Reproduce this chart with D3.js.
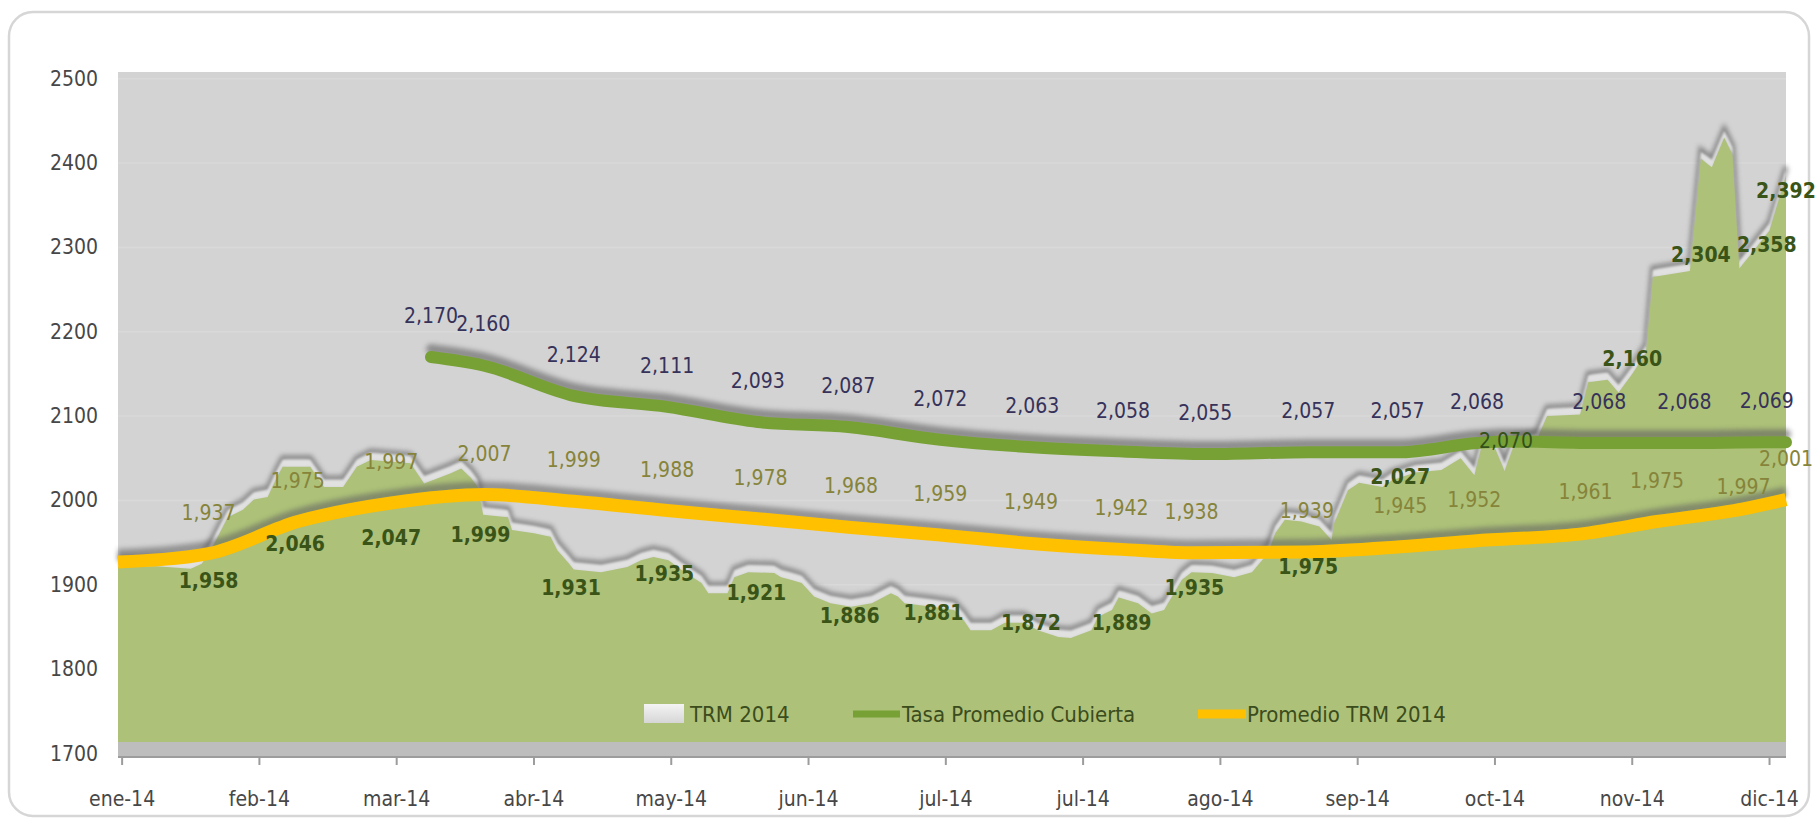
<!DOCTYPE html>
<html><head><meta charset="utf-8">
<script src="https://cdn.jsdelivr.net/npm/d3@7"></script>
<style>html,body{margin:0;padding:0;background:#fff;}svg{display:block}</style>
</head><body>
<svg id="chart" width="1815" height="821"></svg>
<script>
// ---------- DATA ----------
const monthLabels = ["ene-14","feb-14","mar-14","abr-14","may-14","jun-14","jul-14","jul-14","ago-14","sep-14","oct-14","nov-14","dic-14"];
const yTickValues = [1700,1800,1900,2000,2100,2200,2300,2400,2500];

// TRM 2014 (month position on axis, value)
const trmMonth = [-0.03,0.25,0.5,0.58,0.64,0.77,0.88,0.96,1.06,1.13,1.17,1.37,1.47,1.61,1.71,1.81,2.10,2.20,2.39,2.47,2.54,2.59,2.63,2.81,2.84,3.0,3.12,3.17,3.25,3.29,3.49,3.68,3.78,3.87,3.98,4.07,4.22,4.27,4.41,4.46,4.56,4.75,4.8,4.87,4.95,5.04,5.16,5.31,5.46,5.60,5.65,5.7,5.9,6.06,6.13,6.18,6.33,6.43,6.57,6.67,6.82,6.91,7.06,7.11,7.21,7.26,7.40,7.50,7.59,7.72,7.79,7.94,8.10,8.23,8.35,8.40,8.47,8.59,8.72,8.81,8.83,8.93,9.01,9.18,9.25,9.42,9.61,9.75,9.85,9.9,10.0,10.07,10.14,10.3,10.38,10.62,10.68,10.82,10.9,11.0,11.1,11.15,11.42,11.5,11.58,11.67,11.73,11.78,11.88,12.0,12.12];
const trmValue = [1921,1922,1919,1925,1939,1980,1989,2001,2004,2028,2040,2040,2016,2016,2040,2048,2044,2020,2032,2038,2027,2016,1983,1980,1965,1961,1957,1941,1926,1918,1915,1921,1929,1933,1929,1918,1902,1890,1890,1909,1915,1914,1909,1906,1902,1886,1878,1874,1878,1890,1886,1878,1874,1870,1858,1846,1846,1855,1855,1846,1838,1837,1846,1862,1870,1885,1878,1866,1870,1906,1915,1914,1909,1915,1938,1961,1977,1975,1969,1953,1973,2012,2021,2016,2024,2033,2036,2050,2030,2062,2062,2035,2066,2070,2100,2102,2140,2143,2128,2150,2175,2265,2272,2405,2395,2430,2410,2275,2295,2320,2385];

// Promedio TRM 2014
const promMonth = [-0.03,0.63,1.28,1.96,2.64,3.29,3.97,4.65,5.31,5.96,6.62,7.28,7.79,8.63,9.31,9.85,10.66,11.18,11.81,12.12];
const promValue = [1927,1937,1975,1997,2007,1999,1988,1978,1968,1959,1949,1942,1938,1939,1945,1952,1961,1975,1990,2001];

// Tasa Promedio Cubierta
const tasaMonth = [2.25,2.63,3.29,3.97,4.63,5.29,5.96,6.63,7.29,7.89,8.64,9.29,9.87,10.08,10.76,11.38,11.98,12.12];
const tasaValue = [2170,2160,2124,2111,2093,2087,2072,2063,2058,2055,2057,2057,2068,2070,2068,2068,2069,2069];

// data labels
const promLabelMonth = [0.63,1.28,1.96,2.64,3.29,3.97,4.65,5.31,5.96,6.62,7.28,7.79,8.63,9.31,9.85,10.66,11.18,11.81,12.12];
const promLabelValue = [1937,1975,1997,2007,1999,1988,1978,1968,1959,1949,1942,1938,1939,1945,1952,1961,1975,1997,2001];
const promLabelPlace = ["above","above","above","above","above","above","above","above","above","above","above","above","above","above","above","above","above","near","above"];
const tasaLabelMonth = [2.25,2.63,3.29,3.97,4.63,5.29,5.96,6.63,7.29,7.89,8.64,9.29,9.87,10.08,10.76,11.38,11.98];
const tasaLabelValue = [2170,2160,2124,2111,2093,2087,2072,2063,2058,2055,2057,2057,2068,2070,2068,2068,2069];
const tasaLabelPlace = ["above","above","above","above","above","above","above","above","above","above","above","above","above","on","above","above","above"];
const trmLabelMonth = [0.63,1.26,1.96,2.61,3.27,3.95,4.62,5.30,5.91,6.62,7.28,7.81,8.64,9.31,11.0,11.5,11.98,12.12];
const trmLabelValue = [1958,2046,2047,1999,1931,1935,1921,1886,1881,1872,1889,1935,1975,2027,2160,2304,2358,2392];
const trmLabelLevel = [1904,1948,1955,1959,1896,1913,1890,1863,1866,1855,1855,1896,1921,2028,2168,2291,2303,2367];

const legendItems = ["TRM 2014","Tasa Promedio Cubierta","Promedio TRM 2014"];

// ---------- LAYOUT ----------
const plot = {left:118, right:1786, top:72, bottom:757};
const x = d3.scaleLinear().domain([-0.03, 12.12]).range([plot.left, plot.right]);
const y = d3.scaleLinear().domain([1700, 2500]).range([753.5, 78.7]);
const fmt = d3.format(",");
const FONT = "'Liberation Sans Narrow','DejaVu Sans Condensed',Arial,sans-serif";
const offset = {above:41, near:22, on:0};

const svg = d3.select("#chart");
const defs = svg.append("defs");
const f = defs.append("filter").attr("id","blur").attr("x","-10%").attr("y","-60%").attr("width","120%").attr("height","220%");
f.append("feGaussianBlur").attr("stdDeviation",2.6);
const f2 = defs.append("filter").attr("id","soft").attr("x","-10%").attr("y","-60%").attr("width","120%").attr("height","220%");
f2.append("feGaussianBlur").attr("stdDeviation",1.2);
const lg = defs.append("linearGradient").attr("id","swatch").attr("x1",0).attr("y1",0).attr("x2",0).attr("y2",1);
lg.append("stop").attr("offset","0%").attr("stop-color","#f4f4f4");
lg.append("stop").attr("offset","100%").attr("stop-color","#d6d6d6");

// outer frame
svg.append("rect").attr("x",9).attr("y",12).attr("width",1800).attr("height",804).attr("rx",24)
  .attr("fill","#fff").attr("stroke","#d6d6d6").attr("stroke-width",2.5);

// plot background
svg.append("rect").attr("x",plot.left).attr("y",plot.top).attr("width",plot.right-plot.left)
  .attr("height",plot.bottom-plot.top).attr("fill","#d3d3d3");
svg.append("g").selectAll("line").data(yTickValues.slice(1)).join("line")
  .attr("x1",plot.left).attr("x2",plot.right).attr("y1",d=>y(d)).attr("y2",d=>y(d))
  .attr("stroke","#d9d9d9").attr("stroke-width",1.5);

const trm = trmMonth.map((m,i)=>({m, v:trmValue[i]}));
const prom = promMonth.map((m,i)=>({m, v:promValue[i]}));
const tasa = tasaMonth.map((m,i)=>({m, v:tasaValue[i]}));

const trmLine = d3.line().x(d=>x(d.m)).y(d=>y(d.v));
svg.append("path").datum(trm).attr("d",trmLine).attr("fill","none")
  .attr("stroke","#6f6f6f").attr("stroke-width",5).attr("opacity",0.8)
  .attr("transform","translate(0,-9)").attr("filter","url(#blur)");
svg.append("path").datum(trm)
  .attr("d", d3.area().x(d=>x(d.m)).y0(d=>y(d.v)).y1(d=>y(d.v)-7))
  .attr("fill","#e1e1e1").attr("filter","url(#soft)");
svg.append("path").datum(trm)
  .attr("d", d3.area().x(d=>x(d.m)).y0(y(1700)).y1(d=>y(d.v)))
  .attr("fill","#adc178");

// floor band / axis
svg.append("rect").attr("x",plot.left).attr("y",742).attr("width",plot.right-plot.left).attr("height",15)
  .attr("fill","#bdbdbd");
svg.append("line").attr("x1",plot.left).attr("x2",plot.right).attr("y1",757).attr("y2",757)
  .attr("stroke","#9c9c9c").attr("stroke-width",2);
svg.append("g").selectAll("line").data(monthLabels).join("line")
  .attr("x1",(d,i)=>x(i)).attr("x2",(d,i)=>x(i)).attr("y1",757).attr("y2",765)
  .attr("stroke","#9c9c9c").attr("stroke-width",2);

const smooth = d3.line().x(d=>x(d.m)).y(d=>y(d.v)).curve(d3.curveMonotoneX);
svg.append("path").datum(prom).attr("d",smooth).attr("fill","none")
  .attr("stroke","#5e5e5e").attr("stroke-width",10).attr("opacity",0.55)
  .attr("transform","translate(0,-8)").attr("filter","url(#blur)");
svg.append("path").datum(prom).attr("d",smooth).attr("fill","none")
  .attr("stroke","#ffc000").attr("stroke-width",13);

svg.append("path").datum(tasa).attr("d",smooth).attr("fill","none")
  .attr("stroke","#5e5e5e").attr("stroke-width",10).attr("opacity",0.6).attr("stroke-linecap","round")
  .attr("transform","translate(0,-8)").attr("filter","url(#blur)");
svg.append("path").datum(tasa).attr("d",smooth).attr("fill","none")
  .attr("stroke","#77a135").attr("stroke-width",12).attr("stroke-linecap","round");

// ---------- LABELS ----------
const promAt = d3.scaleLinear().domain(promMonth).range(promValue);
const tasaAt = d3.scaleLinear().domain(tasaMonth).range(tasaValue);

svg.append("g").selectAll("text").data(promLabelMonth).join("text")
  .attr("x",d=>x(d)).attr("y",(d,i)=>y(promAt(d))-offset[promLabelPlace[i]])
  .attr("text-anchor","middle").attr("dominant-baseline","central")
  .attr("font-family",FONT).attr("font-size",21).attr("fill","#86843a")
  .text((d,i)=>fmt(promLabelValue[i]));

svg.append("g").selectAll("text").data(tasaLabelMonth).join("text")
  .attr("x",d=>x(d)).attr("y",(d,i)=>y(tasaAt(d))-offset[tasaLabelPlace[i]])
  .attr("text-anchor","middle").attr("dominant-baseline","central")
  .attr("font-family",FONT).attr("font-size",21)
  .attr("fill",(d,i)=>tasaLabelPlace[i]==="on"?"#33501a":"#36325a")
  .text((d,i)=>fmt(tasaLabelValue[i]));

svg.append("g").selectAll("text").data(trmLabelMonth).join("text")
  .attr("x",d=>x(d)).attr("y",(d,i)=>y(trmLabelLevel[i]))
  .attr("text-anchor","middle").attr("dominant-baseline","central")
  .attr("font-family",FONT).attr("font-size",21).attr("font-weight","bold").attr("fill","#3a5418")
  .text((d,i)=>fmt(trmLabelValue[i]));

// ---------- AXES TEXT ----------
svg.append("g").selectAll("text").data(yTickValues).join("text")
  .attr("x",98).attr("y",d=>y(d)).attr("text-anchor","end").attr("dominant-baseline","central")
  .attr("font-family",FONT).attr("font-size",21).attr("fill","#474747")
  .text(d=>d);
svg.append("g").selectAll("text").data(monthLabels).join("text")
  .attr("x",(d,i)=>x(i)).attr("y",799).attr("text-anchor","middle").attr("dominant-baseline","central")
  .attr("font-family",FONT).attr("font-size",21).attr("fill","#474747")
  .text(d=>d);

// ---------- LEGEND ----------
const leg = svg.append("g").attr("font-family",FONT).attr("font-size",22).attr("fill","#3b4c1d");
leg.append("rect").attr("x",644).attr("y",704).attr("width",40).attr("height",19).attr("fill","url(#swatch)");
leg.append("text").attr("x",690).attr("y",714).attr("dominant-baseline","central").text(legendItems[0]);
leg.append("line").attr("x1",853).attr("x2",900).attr("y1",714).attr("y2",714).attr("stroke","#77a135").attr("stroke-width",7);
leg.append("text").attr("x",902).attr("y",714).attr("dominant-baseline","central").text(legendItems[1]);
leg.append("line").attr("x1",1198).attr("x2",1246).attr("y1",714).attr("y2",714).attr("stroke","#ffc000").attr("stroke-width",9);
leg.append("text").attr("x",1247).attr("y",714).attr("dominant-baseline","central").text(legendItems[2]);
</script>
</body></html>
